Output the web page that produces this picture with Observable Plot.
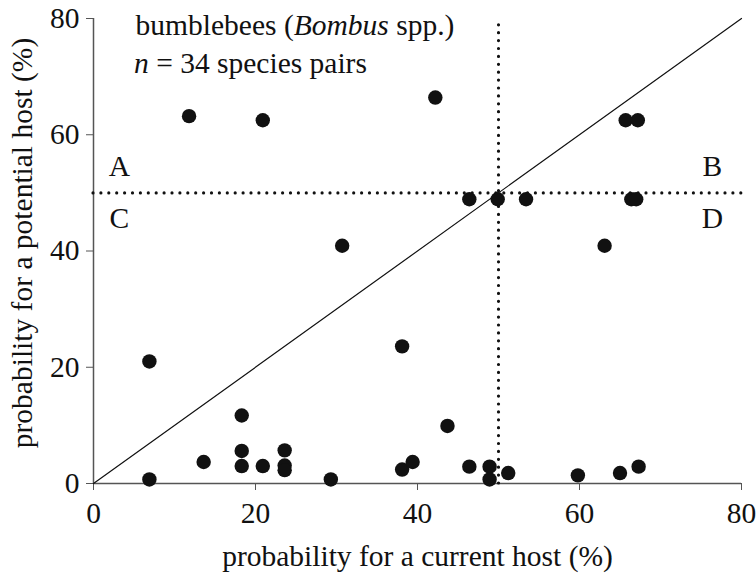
<!DOCTYPE html>
<html>
<head>
<meta charset="utf-8">
<script src="https://cdn.jsdelivr.net/npm/d3@7"></script>
<script src="https://cdn.jsdelivr.net/npm/@observablehq/plot@0.6"></script>
<style>
  html, body { margin: 0; padding: 0; background: #fff; }
  svg text { font-family: 'Liberation Serif', 'Times New Roman', serif !important; }
</style>
</head>
<body>
<div id="chart"></div>
<script>
// probability for a current host (%)
const currentHost = [11.8, 20.9, 42.2, 65.7, 67.2, 46.4, 49.9, 53.4, 66.4, 67.0,
  30.7, 63.1, 6.9, 38.1, 18.3, 18.3, 18.3, 13.6, 6.9, 20.9,
  23.6, 23.6, 23.6, 29.3, 38.1, 39.4, 43.7, 46.4, 48.9, 48.9,
  51.2, 59.8, 65.0, 67.3];
// probability for a potential host (%)
const potentialHost = [63.2, 62.5, 66.4, 62.5, 62.5, 48.9, 48.9, 48.9, 48.9, 48.9,
  40.9, 40.9, 21.0, 23.6, 11.7, 5.6, 3.0, 3.7, 0.7, 3.0,
  5.7, 3.1, 2.3, 0.7, 2.4, 3.7, 9.9, 2.9, 2.9, 0.7,
  1.8, 1.4, 1.8, 2.9];

const xTicks = [0, 20, 40, 60, 80];
const yTicks = [0, 20, 40, 60, 80];
const threshold = 50;
const diagonal = [0, 80];
const quadrantLabels = ["A", "B", "C", "D"];
const quadrantX = [3.2, 76.4, 3.2, 76.4];
const quadrantY = [54.5, 54.5, 45.6, 45.6];
const noteLines = ["bumblebees (Bombus spp.)", "n = 34 species pairs"];
const noteX = [5.2, 5.0];
const noteY = [78.8, 72.3];

const points = currentHost.map((x, i) => ({x, y: potentialHost[i]}));
const quads = quadrantLabels.map((t, i) => ({t, x: quadrantX[i], y: quadrantY[i]}));
const notes = noteLines.map((t, i) => ({t, x: noteX[i], y: noteY[i]}));

const axisColor = "#555";
const FONT = "Liberation Serif";
const FS = 29.5;

const plot = Plot.plot({
  width: 756,
  height: 574,
  marginLeft: 93,
  marginRight: 15,
  marginTop: 18,
  marginBottom: 91,
  style: "font-family: 'Liberation Serif', serif; font-size: 29.5px; color: #111; background: #fff;",
  x: {domain: [0, 80]},
  y: {domain: [0, 80]},
  marks: [
    Plot.axisX({ticks: xTicks, tickSize: 7, tickPadding: 12, stroke: axisColor, label: null, fill: "#111", fontFamily: FONT, fontSize: FS}),
    Plot.axisY({ticks: yTicks, tickSize: 7, tickPadding: 7, stroke: axisColor, label: null, fill: "#111", fontFamily: FONT, fontSize: FS}),
    Plot.ruleY([0], {x1: 0, x2: 80, stroke: axisColor, strokeWidth: 1.5}),
    Plot.ruleX([0], {y1: 0, y2: 80, stroke: axisColor, strokeWidth: 1.5}),
    Plot.line(diagonal, {x: d => d, y: d => d, stroke: "#111", strokeWidth: 1.2}),
    Plot.ruleY([threshold], {x1: 0, x2: 80, stroke: "#111", strokeWidth: 3.2, strokeDasharray: "0,7.9", strokeLinecap: "round"}),
    Plot.ruleX([threshold], {y1: 0, y2: 80, stroke: "#111", strokeWidth: 3.2, strokeDasharray: "0,7.9", strokeLinecap: "round"}),
    Plot.dot(points, {x: "x", y: "y", r: 7.2, fill: "#111", stroke: "none"}),
    Plot.text(quads, {x: "x", y: "y", text: "t", fontSize: FS, fontFamily: FONT, fill: "#111"}),
    Plot.text(notes, {x: "x", y: "y", text: "t", textAnchor: "start", fontSize: FS, fontFamily: FONT, fill: "#111"}),
    Plot.text(["probability for a current host (%)"], {frameAnchor: "bottom", textAnchor: "middle", lineAnchor: "middle", dy: 73, fontSize: FS, fontFamily: FONT, fill: "#111"}),
    Plot.text(["probability for a potential host (%)"], {frameAnchor: "left", textAnchor: "middle", lineAnchor: "middle", dx: -71, dy: -8, rotate: -90, fontSize: FS, fontFamily: FONT, fill: "#111"})
  ]
});

// italicise parts of the note text
d3.select(plot).selectAll("text").each(function() {
  const el = d3.select(this);
  const s = this.textContent;
  if (s === noteLines[0]) {
    el.text(null);
    el.append("tspan").text("bumblebees (");
    el.append("tspan").attr("font-style", "italic").text("Bombus");
    el.append("tspan").text(" spp.)");
  } else if (s === noteLines[1]) {
    el.text(null);
    el.append("tspan").attr("font-style", "italic").text("n");
    el.append("tspan").text(" = 34 species pairs");
  }
});

document.getElementById("chart").appendChild(plot);
</script>
</body>
</html>
